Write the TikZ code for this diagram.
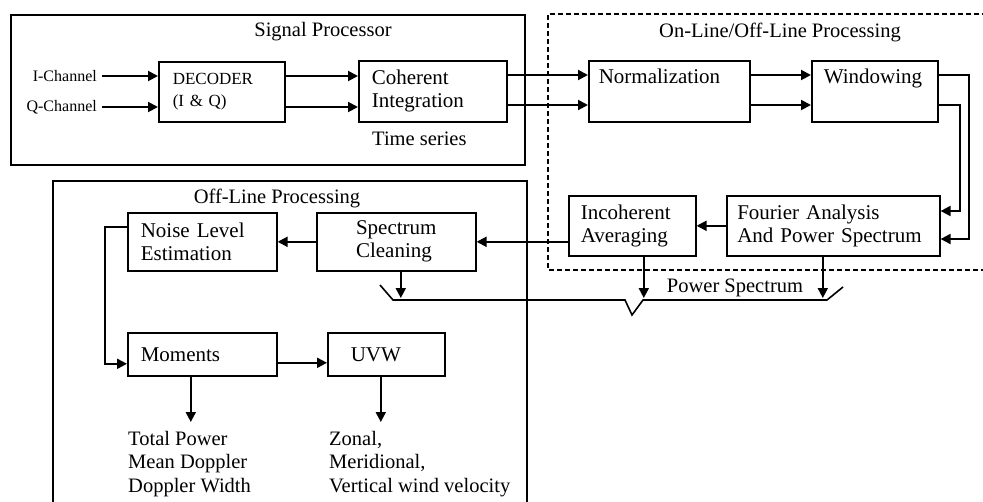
\documentclass[tikz,border=0pt]{standalone}
\usepackage{fontspec}
\setmainfont{Liberation Serif}
\usetikzlibrary{arrows.meta}
\begin{document}
\begin{tikzpicture}[x=1pt,y=-1pt,
  box/.style={draw, line width=1.6pt, inner xsep=0pt, inner ysep=0pt, align=left, anchor=north west, font=\fontsize{21}{23}\selectfont},
  arr/.style={line width=2pt, -{Triangle[length=10pt,width=10pt]}},
  lbl/.style={inner sep=0pt, font=\fontsize{20.5}{23.5}\selectfont},
  sm/.style={inner sep=0pt, font=\fontsize{16}{19}\selectfont}]
\useasboundingbox (0,0) rectangle (983,501);
% frames
\draw[line width=1.7pt] (11,15) rectangle (525,165);
\draw[line width=1.7pt, dash pattern=on 5pt off 3pt] (995,14) -- (548,14) -- (548,270) -- (995,270);
\draw[line width=1.7pt] (53,510) -- (53,181) -- (527,181) -- (527,510);
% titles and labels
\node[lbl] (t1) at (323,32) {Signal Processor};
\node[lbl] (t2) at (780,32) {On-Line/Off-Line Processing};
\node[lbl] (t3) at (277,198) {Off-Line Processing};
\node[lbl, anchor=west] (ts) at (372,139) {Time series};
\node[lbl] (ps) at (735,288) {Power Spectrum};
\node[sm, anchor=east] (ich) at (97,76) {I-Channel};
\node[sm, anchor=east] (qch) at (97,107) {Q-Channel};
\node[lbl, anchor=north west, align=left] (o1) at (128,431) {Total Power\\Mean Doppler\\Doppler Width};
\node[lbl, anchor=north west, align=left] (o2) at (329,431) {Zonal,\\Meridional,\\Vertical wind velocity};
% boxes
\node[box, minimum width=126pt, minimum height=60pt, text width=98pt, font=\fontsize{17}{22}\selectfont] (dec) at (158,61) {DECODER\\(I \& Q)};
\node[box, minimum width=148pt, minimum height=61pt, text width=122pt] (coh) at (358,60) {Coherent\\Integration};
\node[box, minimum width=161pt, minimum height=61pt, text width=141pt] (norm) at (588,60) {Normalization\\\strut};
\node[box, minimum width=126pt, minimum height=61pt, text width=102pt] (win) at (811,60) {Windowing\\\strut};
\node[box, minimum width=213pt, minimum height=60pt, text width=192pt] (four) at (726,195) {Fourier Analysis\\And Power Spectrum};
\node[box, minimum width=127pt, minimum height=60pt, text width=103pt] (inc) at (568,195) {Incoherent\\Averaging};
\node[box, minimum width=149pt, minimum height=58pt, text width=123pt] (noise) at (127,212) {Noise Level\\Estimation};
\node[box, minimum width=159pt, minimum height=58pt] (spec) at (316,212) {Spectrum\\Cleaning};
\node[box, minimum width=149pt, minimum height=43pt, text width=123pt] (mom) at (127,332) {Moments};
\node[box, minimum width=117pt, minimum height=43pt, text width=71pt] (uvw) at (327,332) {UVW};
% helper coordinates
\coordinate (r1) at (0,75);
\coordinate (r2) at (0,105);
\coordinate (c1) at (969,0);
\coordinate (c2) at (960,0);
\coordinate (f1) at (0,211);
\coordinate (f2) at (0,239);
\coordinate (lx) at (105,0);
\coordinate (bl) at (0,298);
\coordinate (ob) at (0,422);
% connectors
\draw[arr] ([xshift=5pt]ich.east) -- (ich.east -| dec.west);
\draw[arr] ([xshift=5pt]qch.east) -- (qch.east -| dec.west);
\draw[arr] (ich.east -| dec.east) -- (ich.east -| coh.west);
\draw[arr] (qch.east -| dec.east) -- (qch.east -| coh.west);
\draw[arr] (r1 -| coh.east) -- (r1 -| norm.west);
\draw[arr] (r2 -| coh.east) -- (r2 -| norm.west);
\draw[arr] (r1 -| norm.east) -- (r1 -| win.west);
\draw[arr] (r2 -| norm.east) -- (r2 -| win.west);
\draw[arr] (r1 -| win.east) -- (r1 -| c1) -- (f2 -| c1) -- (f2 -| four.east);
\draw[arr] (r2 -| win.east) -- (r2 -| c2) -- (f1 -| c2) -- (f1 -| four.east);
\draw[arr] (four.west) -- (inc.east);
\draw[arr] (spec.east -| inc.west) -- (spec.east);
\draw[arr] (spec.west) -- (noise.east);
\draw[arr] ([yshift=15pt]noise.west) -- ([yshift=15pt]noise.west -| lx) -- ([yshift=-9.5pt]mom.west -| lx) -- ([yshift=-9.5pt]mom.west);
\draw[arr] ([yshift=-8.5pt]mom.east) -- ([yshift=-8.5pt]mom.east -| uvw.west);
\draw[arr] ([xshift=4.5pt]spec.south) -- ([xshift=4.5pt]spec.south |- bl);
\draw[arr] ([xshift=11.5pt]inc.south) -- ([xshift=11.5pt]inc.south |- bl);
\draw[arr] ([xshift=-10.5pt]four.south) -- ([xshift=-10.5pt]four.south |- bl);
\draw[arr] ([xshift=-11.5pt]mom.south) -- ([xshift=-11.5pt]mom.south |- ob);
\draw[arr] ([xshift=-5.5pt]uvw.south) -- ([xshift=-5.5pt]uvw.south |- ob);
\draw[line width=1.6pt] (380,285) -- (393,300) -- (625,300) -- (632,315) -- (643,300) -- (827,300) -- (843,287);
\end{tikzpicture}
\end{document}
